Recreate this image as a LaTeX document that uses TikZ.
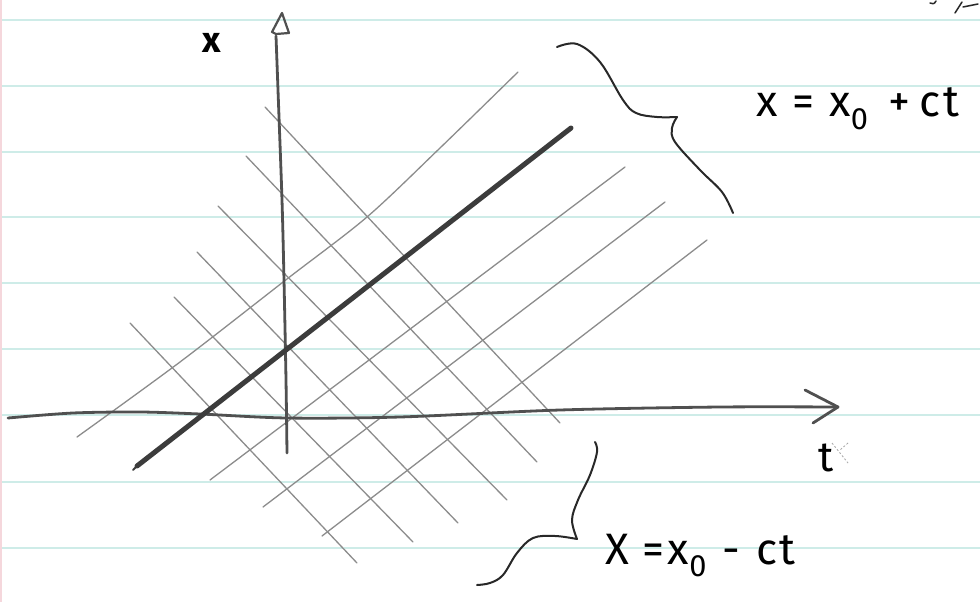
\documentclass[tikz,border=0pt]{standalone}
\usepackage{fontspec}
\setmainfont{Fira Sans}
\definecolor{paperline}{RGB}{206,236,232}
\definecolor{marginpink}{RGB}{245,215,220}
\definecolor{gridgray}{RGB}{140,140,140}
\definecolor{axisgray}{RGB}{80,80,80}
\definecolor{thickgray}{RGB}{60,60,60}
\definecolor{inkdark}{RGB}{40,40,40}
\tikzset{
  ruled/.style={paperline, line width=1.8pt},
  gridline/.style={gridgray, line width=1.3pt, line cap=round},
  axisline/.style={axisgray, line width=2.8pt, line cap=round, line join=round},
  worldline/.style={thickgray, line width=5pt, line cap=round},
  bracestroke/.style={inkdark, line width=2pt, line cap=round, line join=round},
  lbl/.style={inner sep=0pt, text=black},
  eqfont/.style={font=\fontsize{44}{44}\selectfont},
  faint/.style={gray!70, line width=0.8pt, dashed, dash pattern=on 2pt off 2pt}
}
\begin{document}
\begin{tikzpicture}[x=1pt,y=-1pt]
\useasboundingbox (0,0) rectangle (980,602);
\fill[white] (0,0) rectangle (980,602);
% ruled paper
\foreach \yy in {20,86,152,217,283,349,415,482,548}
  \draw[ruled] (0,\yy) -- (980,\yy);
\draw[marginpink, line width=1.5pt] (1,0) -- (1,602);

% down-right family (x = x0 - ct)
\coordinate (d1s) at (265,107); \coordinate (d1e) at (560,423);
\coordinate (d2s) at (246,156); \coordinate (d2e) at (537,462);
\coordinate (d3s) at (218,206); \coordinate (d3e) at (507,500);
\coordinate (d4s) at (197,252); \coordinate (d4e) at (458,523);
\coordinate (d5s) at (174,297); \coordinate (d5e) at (413,542);
\coordinate (d6s) at (130,323); \coordinate (d6e) at (357,563);
\foreach \i in {1,...,6} \draw[gridline] (d\i s) -- (d\i e);

% up-right family (x = x0 + ct)
\draw[gridline] plot[smooth] coordinates {(77,437) (180,362) (287,279) (367,217) (440,148) (518,72)};
\coordinate (u2s) at (210,480); \coordinate (u2e) at (625,167);
\coordinate (u3s) at (263,507); \coordinate (u3e) at (665,202);
\coordinate (u4s) at (322,536); \coordinate (u4e) at (707,240);
\foreach \i in {2,3,4} \draw[gridline] (u\i s) -- (u\i e);

% axes
\draw[axisline] plot[smooth] coordinates {(8,418) (73,413) (140,412) (200,414) (287,418) (400,417) (560,410) (720,407) (838,407)};
\coordinate (tarrow) at (838,407);
\draw[axisline] (805,390) -- (tarrow) -- (813,423);
\draw[axisline] plot[smooth] coordinates {(287,453) (286,380) (284,280) (282,200) (278,90) (276,36)};
\coordinate (xtip) at (282,13);
\draw[axisline, line width=2.2pt] (276,34) -- (272,32) -- (xtip) -- (289,33) -- (276,34);

% thick world line
\coordinate (wl1) at (137,466); \coordinate (wl2) at (571,128);
\draw[worldline] (wl1) -- (wl2);
\draw[thickgray, line width=2pt, line cap=round] (133,470) -- (140,463);

% braces
\draw[bracestroke] plot[smooth, tension=0.6] coordinates {(557,47) (577,44) (600,62) (623,100) (636,113) (657,117) (677,117)};
\draw[bracestroke] plot[smooth, tension=0.6] coordinates {(677,117) (672,128) (675,142) (700,170) (722,192) (733,213)};
\draw[bracestroke] plot[smooth, tension=0.6] coordinates {(595,442) (597,452) (590,475) (578,500) (572,520) (577,539)};
\draw[bracestroke] plot[smooth, tension=0.6] coordinates {(577,539) (555,536) (533,538) (517,553) (503,575) (490,583) (477,585)};

% labels
\node[lbl, font=\fontsize{36}{36}\selectfont\bfseries] (xlab) at (212,43) {x};
\node[lbl, font=\fontsize{42}{42}\selectfont] (tlab) at (826,458) {t};
\node[lbl, eqfont, anchor=base west] (eqplus) at (756,117)
  {x\hspace{15pt}=\hspace{15pt}x\textsubscript{0}\hspace{20pt}+\hspace{9pt}c\hspace{3pt}t};
\node[lbl, eqfont, anchor=base west] (eqminus) at (605,564)
  {X\hspace{14pt}=\hspace{3pt}x\textsubscript{0}\hspace{16pt}-\hspace{16pt}c\hspace{2pt}t};

% faint marks
\draw[faint] (832,443) -- (848,463);
\draw[faint] (848,443) -- (840,450);
\draw[inkdark, line width=1.5pt, line cap=round] (936,1) .. controls (934,4) .. (930,3);
\draw[inkdark, line width=1.5pt, line cap=round] (962,2) -- (955,13);
\draw[inkdark, line width=1.5pt, line cap=round] (963,7) -- (978,4);
\end{tikzpicture}
\end{document}
